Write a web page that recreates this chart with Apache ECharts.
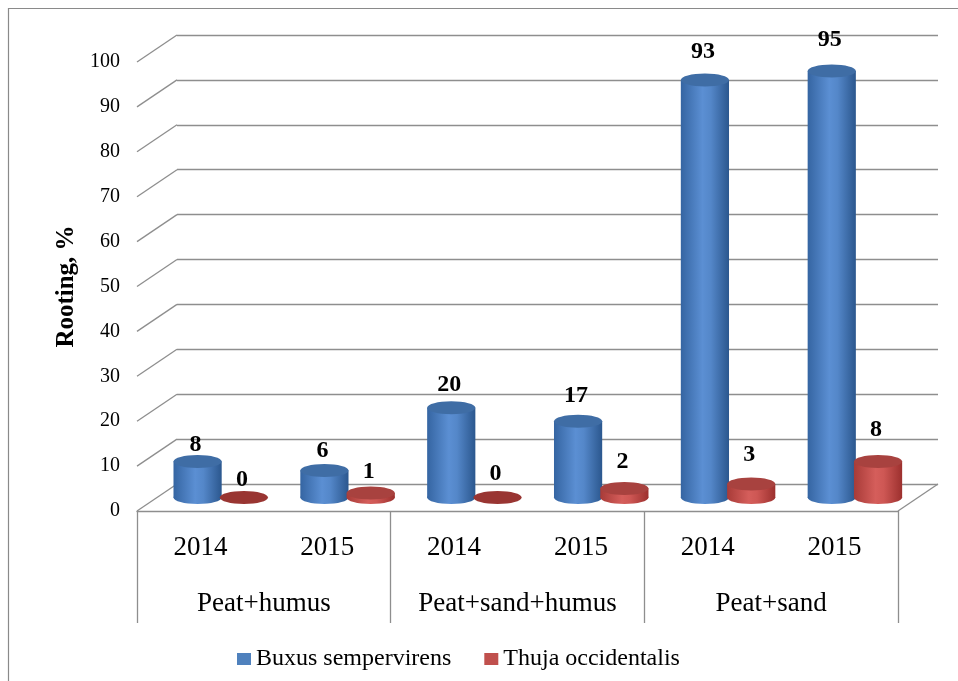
<!DOCTYPE html>
<html>
<head>
<meta charset="utf-8">
<script src="https://cdn.jsdelivr.net/npm/echarts@6/dist/echarts.min.js"></script>
<style>
html,body{margin:0;padding:0;background:#fff;}
#chart{width:958px;height:681px;}
</style>
</head>
<body>
<div id="chart"></div>
<script>
// ---- data ----
const categories = ['2014', '2015', '2014', '2015', '2014', '2015'];
const groups = ['Peat+humus', 'Peat+sand+humus', 'Peat+sand'];
const buxus = [8, 6, 20, 17, 93, 95];
const thuja = [0, 1, 0, 2, 3, 8];
const yTicks = [0, 10, 20, 30, 40, 50, 60, 70, 80, 90, 100];
const seriesNames = ['Buxus sempervirens', 'Thuja occidentalis'];

// ---- styles ----
const FONT = '"Liberation Serif", "Times New Roman", serif';
const LINE = '#8E8E8E';
const DEPTH_X = 40, DEPTH_Y = 27;

const palettes = {
  blue: {
    legend: '#4F81BD',
    body: [[0, '#3565A2'], [0.45, '#5B8FD3'], [0.62, '#5487C9'], [1, '#2B578E']],
    top: '#3F6DA5',
    flat: '#3F6DA5'
  },
  red: {
    legend: '#C0504D',
    body: [[0, '#A83B38'], [0.45, '#D55E5B'], [0.62, '#CE5754'], [1, '#9C302E']],
    top: '#A8423F',
    flat: '#993532'
  }
};

function grad(stops) {
  return new echarts.graphic.LinearGradient(0, 0, 1, 0,
    stops.map(s => ({ offset: s[0], color: s[1] })));
}

function cylinder(offsetFrac, pal) {
  return function (params, api) {
    const i = api.value(0), v = api.value(1);
    const top = api.coord([i, v]);
    const base = api.coord([i, 0]);
    const band = api.size([1, 0])[0];
    const w = band * 0.38, rx = w / 2, ry = 6.5;
    const cx = top[0] + offsetFrac * band;
    const children = [];
    if (v > 0) {
      children.push({ type: 'ellipse', shape: { cx: cx, cy: base[1], rx: rx, ry: ry },
        style: { fill: grad(pal.body) } });
      children.push({ type: 'rect', shape: { x: cx - rx, y: top[1], width: w, height: base[1] - top[1] },
        style: { fill: grad(pal.body) } });
    }
    children.push({ type: 'ellipse', shape: { cx: cx, cy: top[1], rx: rx, ry: ry },
      style: { fill: v > 0 ? pal.top : pal.flat } });
    const off = 17 + 0.022 * (cx - 190);
    children.push({ type: 'text', style: { text: String(v), x: cx - 2, y: top[1] - off,
      align: 'center', verticalAlign: 'middle', font: 'bold 24px ' + FONT, fill: '#000' } });
    return { type: 'group', children: children };
  };
}

const chart = echarts.init(document.getElementById('chart'));
chart.setOption({
  animation: false,
  backgroundColor: '#fff',
  graphic: [{
    type: 'rect', shape: { x: 8.5, y: 8.5, width: 1000, height: 1000 },
    style: { fill: 'none', stroke: '#8A8A8A', lineWidth: 1.2 }, z: -10
  }],
  legend: {
    data: seriesNames, left: 232, top: 642, icon: 'rect', itemWidth: 14, itemHeight: 12, itemGap: 33,
    textStyle: { fontFamily: FONT, fontSize: 24, color: '#000' }
  },
  grid: [
    { left: 137, right: 60, top: 62, bottom: 170 },      // front plane
    { left: 157, right: 40, top: 48.5, bottom: 183.5 },  // mid-depth plane (bars)
    { left: 177, right: 20, top: 35, bottom: 197 },      // back wall
    { left: 137, right: 60, top: 62, bottom: 170 }       // front plane (years)
  ],
  xAxis: [
    { gridIndex: 0, type: 'category', data: groups, position: 'bottom',
      axisLine: { show: true, lineStyle: { color: LINE, width: 1.3 } },
      axisTick: { show: true, interval: 0, length: 112, lineStyle: { color: LINE, width: 1.3 } },
      axisLabel: { interval: 0, hideOverlap: false, margin: 79, fontFamily: FONT, fontSize: 27, color: '#000' },
      splitLine: { show: false } },
    { gridIndex: 1, type: 'category', data: categories, show: false },
    { gridIndex: 2, type: 'category', data: categories, show: false },
    { gridIndex: 3, type: 'category', data: categories, position: 'bottom',
      axisLine: { show: false }, axisTick: { show: false },
      axisLabel: { interval: 0, hideOverlap: false, margin: 23, fontFamily: FONT, fontSize: 27, color: '#000' } }
  ],
  yAxis: [
    { gridIndex: 0, type: 'value', min: 0, max: 100, interval: 10,
      name: 'Rooting, %', nameLocation: 'middle', nameGap: 58, nameRotate: 90,
      nameTextStyle: { fontFamily: FONT, fontSize: 25, fontWeight: 'bold', color: '#000' },
      axisLine: { show: false }, axisTick: { show: false }, splitLine: { show: false },
      axisLabel: { margin: 17, fontFamily: FONT, fontSize: 20, color: '#000',
        formatter: function (val) { return yTicks.indexOf(val) >= 0 ? String(val) : ''; } } },
    { gridIndex: 1, type: 'value', min: 0, max: 100, interval: 10, show: false },
    { gridIndex: 2, type: 'value', min: 0, max: 100, interval: 10,
      axisLine: { show: false }, axisTick: { show: false }, axisLabel: { show: false },
      splitLine: { show: true, lineStyle: { color: LINE, width: 1.3 } } },
    { gridIndex: 3, type: 'value', min: 0, max: 100, interval: 10, show: false }
  ],
  series: [
    { // depth diagonals at each tick + floor right edge
      type: 'custom', xAxisIndex: 0, yAxisIndex: 0, silent: true,
      data: yTicks.map(t => [0, t]),
      renderItem: function (params, api) {
        const cs = params.coordSys;
        const p = api.coord([0, api.value(1)]);
        const children = [{ type: 'line',
          shape: { x1: cs.x, y1: p[1], x2: cs.x + DEPTH_X, y2: p[1] - DEPTH_Y },
          style: { stroke: LINE, lineWidth: 1.3 } }];
        if (api.value(1) === 0) {
          children.push({ type: 'line',
            shape: { x1: cs.x + cs.width, y1: p[1], x2: cs.x + cs.width + DEPTH_X, y2: p[1] - DEPTH_Y },
            style: { stroke: LINE, lineWidth: 1.3 } });
        }
        return { type: 'group', children: children };
      }
    },
    { name: seriesNames[0], type: 'custom', xAxisIndex: 1, yAxisIndex: 1,
      itemStyle: { color: palettes.blue.legend },
      data: buxus.map((v, i) => [i, v]), renderItem: cylinder(-0.18, palettes.blue), z: 3 },
    { name: seriesNames[1], type: 'custom', xAxisIndex: 1, yAxisIndex: 1,
      itemStyle: { color: palettes.red.legend },
      data: thuja.map((v, i) => [i, v]), renderItem: cylinder(0.185, palettes.red), z: 4 }
  ]
});
</script>
</body>
</html>
